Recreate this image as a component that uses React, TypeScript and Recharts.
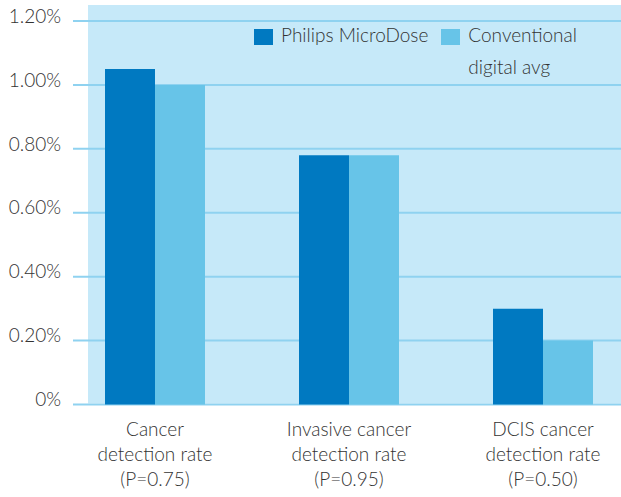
import React from "react";
import { BarChart, Bar, XAxis, YAxis, CartesianGrid, Legend } from "recharts";

const categories = [
  "Cancer\ndetection rate\n(P=0.75)",
  "Invasive cancer\ndetection rate\n(P=0.95)",
  "DCIS cancer\ndetection rate\n(P=0.50)",
];
const microDose = [1.05, 0.78, 0.3];
const conventional = [1.0, 0.78, 0.2];
const yTicks = [0, 0.2, 0.4, 0.6, 0.8, 1.0, 1.2];
const seriesNames = ["Philips MicroDose", "Conventional\ndigital avg"];

const data = categories.map((c, i) => ({
  name: c,
  micro: microDose[i],
  conv: conventional[i],
}));

const FONT = "Lato, 'Open Sans', sans-serif";
const WEIGHT = 300;
const TEXT = "#333333";
const DARK = "#0079c1";
const LIGHT = "#67c4e8";
const BG = "#c6e9f9";
const GRID = "#8fd2f0";

const fmt = (v: number) => (v === 0 ? "0%" : `${v.toFixed(2)}%`);

const XTick = (props: any) => {
  const { x, y, payload } = props;
  const lines = String(payload.value).split("\n");
  return (
    <text
      x={x}
      y={y}
      textAnchor="middle"
      fill={TEXT}
      fontFamily={FONT}
      fontWeight={WEIGHT}
      fontSize={19}
    >
      {lines.map((l: string, i: number) => (
        <tspan key={i} x={x} dy={i === 0 ? 31 : 25}>
          {l}
        </tspan>
      ))}
    </text>
  );
};

const LegendContent = (props: any) => {
  const payload = [...(props.payload || [])].sort(
    (a: any, b: any) => seriesNames.indexOf(a.value) - seriesNames.indexOf(b.value)
  );
  return (
    <div
      style={{
        display: "flex",
        fontFamily: FONT,
        fontWeight: WEIGHT,
        fontSize: 19,
        color: TEXT,
      }}
    >
      {payload.map((p: any, i: number) => (
        <div
          key={i}
          style={{ display: "flex", alignItems: "flex-start", marginRight: 13 }}
        >
          <div
            style={{
              width: 19,
              height: 16,
              background: p.color,
              marginTop: 4,
              marginRight: 8,
            }}
          />
          <div style={{ whiteSpace: "pre", lineHeight: "32px", marginTop: -6 }}>
            {p.value}
          </div>
        </div>
      ))}
    </div>
  );
};

export default function App() {
  return (
    <div
      style={{
        position: "absolute",
        left: 0,
        top: 0,
        width: 621,
        height: 497,
        overflow: "hidden",
        background: "#fff",
      }}
    >
      <BarChart
        width={640}
        height={497}
        data={data}
        margin={{ top: 21, right: 0, bottom: 0, left: 0 }}
        barGap={0}
        barSize={50}
      >
        <CartesianGrid
          x={88}
          y={5}
          width={560}
          height={398.5}
          fill={BG}
          horizontal={false}
          vertical={false}
          stroke="none"
        />
        <CartesianGrid
          x={73}
          width={575}
          vertical={false}
          stroke={GRID}
          strokeWidth={2}
        />
        <XAxis
          dataKey="name"
          axisLine={false}
          tickLine={false}
          tickSize={0}
          tickMargin={0}
          height={92.5}
          interval={0}
          tick={<XTick />}
        />
        <YAxis
          width={58}
          domain={[0, 1.2]}
          ticks={yTicks}
          tickFormatter={fmt}
          axisLine={false}
          tickLine={false}
          tickSize={0}
          tickMargin={0}
          dx={3}
          dy={-5}
          tick={{ fill: TEXT, fontFamily: FONT, fontWeight: WEIGHT, fontSize: 19 }}
        />
        <Legend
          layout="vertical"
          align="center"
          verticalAlign="middle"
          content={<LegendContent />}
          wrapperStyle={{ position: "absolute", top: 25, left: 254, width: 360 }}
        />
        <Bar
          dataKey="micro"
          name={seriesNames[0]}
          fill={DARK}
          isAnimationActive={false}
        />
        <Bar
          dataKey="conv"
          name={seriesNames[1]}
          fill={LIGHT}
          isAnimationActive={false}
        />
      </BarChart>
    </div>
  );
}
